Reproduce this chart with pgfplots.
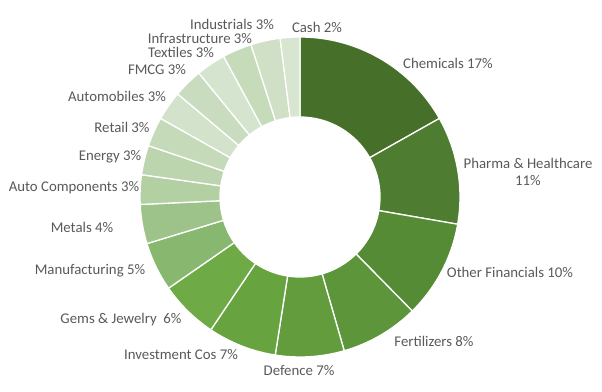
\documentclass[border=0pt]{standalone}
\usepackage{pgfplots}
\usepackage{pgfplotstable}
\pgfplotsset{compat=1.18}
\usepackage{fontspec}
\setmainfont{Carlito}
\definecolor{s0}{HTML}{46702A}
\definecolor{s1}{HTML}{4E7D31}
\definecolor{s2}{HTML}{568B36}
\definecolor{s3}{HTML}{5D953A}
\definecolor{s4}{HTML}{629C3D}
\definecolor{s5}{HTML}{67A43F}
\definecolor{s6}{HTML}{6EAA45}
\definecolor{s7}{HTML}{88B76F}
\definecolor{s8}{HTML}{9EC38A}
\definecolor{s9}{HTML}{B3D0A3}
\definecolor{s10}{HTML}{BCD5AF}
\definecolor{s11}{HTML}{C4DAB9}
\definecolor{s12}{HTML}{D3E2CB}
\definecolor{s13}{HTML}{C9DCBF}
\definecolor{s14}{HTML}{D5E4CE}
\definecolor{s15}{HTML}{C5DBB9}
\definecolor{s16}{HTML}{CFE0C6}
\definecolor{s17}{HTML}{D8E6D1}
\definecolor{txt}{HTML}{595959}
\pgfplotstableread[col sep=comma]{
name,value,lx,ly
Chemicals 17\%,17,448,329
{Pharma \& Healthcare\\11\%},11,528,220
Other Financials 10\%,10,510,120
Fertilizers 8\%,8,434,51
Defence 7\%,7,299,22
Investment Cos 7\%,7,181,37
Gems \& Jewelry\ \ 6\%,6,121,72
Manufacturing 5\%,5,90,121
Metals 4\%,4,82,165
Auto Components 3\%,3,74,204
Energy 3\%,3,110,235
Retail 3\%,3,122,265
Automobiles 3\%,3,117,296
FMCG 3\%,3,157,322
Textiles 3\%,3,181,340
Infrastructure 3\%,3,200,354
Industrials 3\%,3,232,368
Cash 2\%,2,317,365
}\sectors
\pgfplotstablegetrowsof{\sectors}
\pgfmathtruncatemacro\N{\pgfplotsretval-1}
\def\total{0}
\pgfplotsforeachungrouped \i in {0,...,\N}{%
  \pgfplotstablegetelem{\i}{value}\of\sectors
  \pgfmathsetmacro\total{\total+\pgfplotsretval}%
}
\begin{document}
\begin{tikzpicture}
\begin{axis}[
  width=602bp, height=392bp, scale only axis,
  xmin=0, xmax=602, ymin=0, ymax=392,
  hide axis, clip=false,
]
\def\cum{0}
\pgfplotsforeachungrouped \i in {0,...,\N}{%
  \pgfplotstablegetelem{\i}{value}\of\sectors
  \let\v\pgfplotsretval
  \pgfmathsetmacro\aone{90-360*(\cum/\total)}%
  \pgfmathsetmacro\cum{\cum+\v}%
  \pgfmathsetmacro\atwo{90-360*(\cum/\total)}%
  \pgfmathsetmacro\aback{\atwo+180}%
  \pgfplotstablegetelem{\i}{lx}\of\sectors \let\lx\pgfplotsretval
  \pgfplotstablegetelem{\i}{ly}\of\sectors \let\ly\pgfplotsretval
  \pgfplotstablegetelem{\i}{name}\of\sectors
  \global\expandafter\let\csname lab\i\endcsname\pgfplotsretval
  \edef\doit{%
    \noexpand\fill[fill=s\i, draw=white, line width=1.3bp, line join=round]
      (axis cs:300,195) ++(\aone:160bp)
      arc[start angle=\aone, end angle=\atwo, radius=160bp]
      -- ++(\aback:80bp)
      arc[start angle=\atwo, end angle=\aone, radius=80bp] -- cycle;
    \noexpand\node[text=txt, font=\noexpand\fontsize{14.8bp}{16.5bp}\noexpand\selectfont, align=center, inner sep=0pt]
      at (axis cs:\lx,\ly) {\expandafter\noexpand\csname lab\i\endcsname};
  }%
  \doit
}
\end{axis}
\pgfresetboundingbox
\useasboundingbox (current axis.south west) rectangle (current axis.north east);
\end{tikzpicture}
\end{document}
